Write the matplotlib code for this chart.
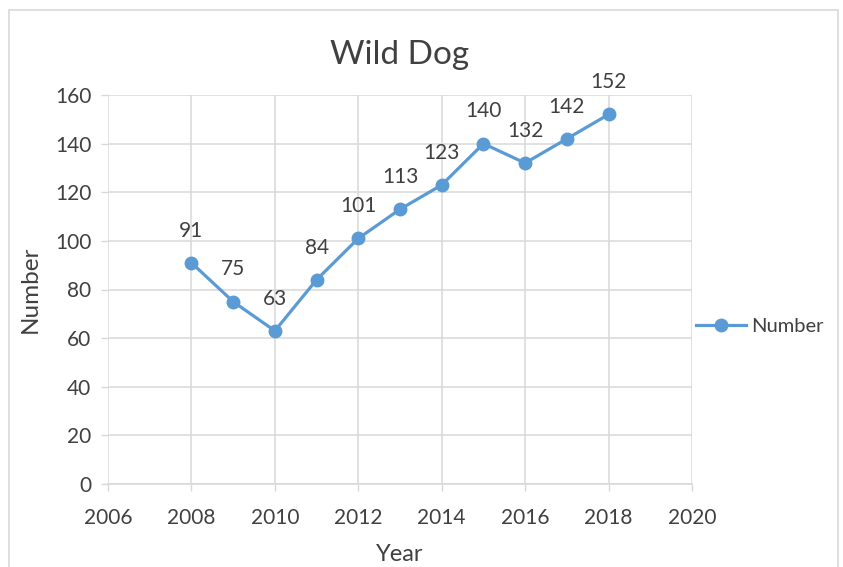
import matplotlib.pyplot as plt
from matplotlib.patches import Rectangle

years = [2008, 2009, 2010, 2011, 2012, 2013, 2014, 2015, 2016, 2017, 2018]
counts = [91, 75, 63, 84, 101, 113, 123, 140, 132, 142, 152]
x_ticks = [2006, 2008, 2010, 2012, 2014, 2016, 2018, 2020]
y_ticks = [0, 20, 40, 60, 80, 100, 120, 140, 160]

blue = '#5B9BD5'
txt = '#404040'
grid = '#D9D9D9'

plt.rcParams['font.family'] = ['Lato', 'DejaVu Sans']

fig = plt.figure(figsize=(8.43, 5.67), dpi=100)
fig.patches.append(Rectangle((9 / 843, -0.1), 829 / 843, 1.1 - 10 / 567,
                             transform=fig.transFigure, fill=False,
                             edgecolor=grid, linewidth=1.2))

ax = fig.add_axes([108 / 843, 1 - 484 / 567, 584 / 843, 389 / 567])
ax.plot(years, counts, color=blue, linewidth=2.3, marker='o', markersize=9,
        label='Number')
for x, y in zip(years, counts):
    ax.annotate(str(y), (x, y), xytext=(0, 16), textcoords='offset points',
                ha='center', va='bottom', fontsize=15, color=txt)

ax.set_xlim(2006, 2020)
ax.set_ylim(0, 160)
ax.set_xticks(x_ticks)
ax.set_yticks(y_ticks)
ax.grid(True, color=grid, linewidth=1.1)
ax.set_axisbelow(True)
for s in ax.spines.values():
    s.set_visible(False)
ax.spines['bottom'].set_visible(True)
ax.spines['bottom'].set_color(grid)
ax.spines['bottom'].set_linewidth(1.2)
ax.tick_params(colors=grid, labelcolor=txt, labelsize=15, length=5, width=1)
ax.tick_params(axis='x', pad=12)
ax.tick_params(axis='y', pad=7)

ax.set_title('Wild Dog', fontsize=24, color=txt, pad=22)
ax.set_xlabel('Year', fontsize=17, color=txt, labelpad=12)
ax.set_ylabel('Number', fontsize=17.5, color=txt, labelpad=10)

ax.legend(loc='center left', bbox_to_anchor=(1.0, 0.404), frameon=False,
          fontsize=14.5, labelcolor=txt, handlelength=2.5, handletextpad=0.25,
          borderaxespad=0.0, borderpad=0.2)

fig.savefig('out.png', dpi=100)
